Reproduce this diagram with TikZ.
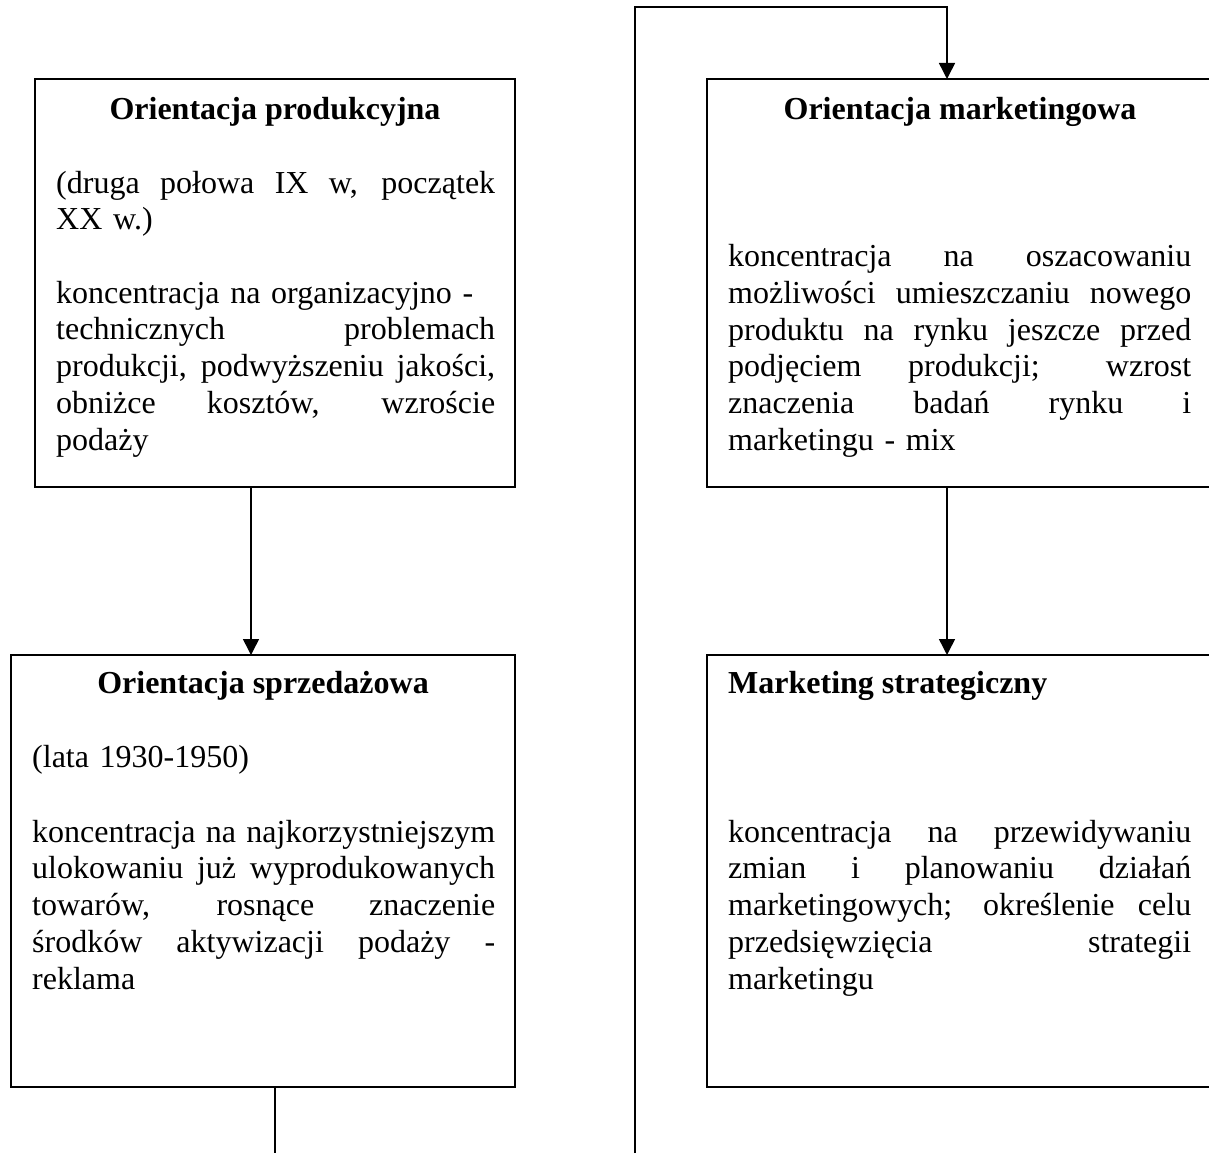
\documentclass[tikz,border=0pt]{standalone}
\usepackage{fontspec}
\setmainfont{Liberation Serif}
\usetikzlibrary{arrows.meta}
\newcommand{\jl}[1]{\leavevmode\hbox to\hsize{\spaceskip=.25em plus 1fil\relax #1}}
\begin{document}
\begin{tikzpicture}[x=1pt,y=-1pt,
  box/.style={draw, line width=1.5pt, inner sep=0pt, outer sep=0pt, anchor=north west},
  ttl/.style={font=\fontsize{32}{36.8}\selectfont\bfseries, inner sep=0pt, anchor=base},
  para/.style={font=\fontsize{32}{36.8}\selectfont, inner sep=0pt, align=left, anchor=base west, text width=#1},
  conn/.style={line width=1.5pt},
  arr/.style={line width=1.5pt, -{Triangle[length=16pt,width=16pt]}}
]
\useasboundingbox (0,0) rectangle (1209,1153);
% boxes
\node[box, minimum width=480pt, minimum height=408pt] (b1) at (35,79) {};
\node[box, minimum width=504pt, minimum height=432pt] (b2) at (11,655) {};
\node[box, minimum width=504pt, minimum height=408pt] (b3) at (707,79) {};
\node[box, minimum width=504pt, minimum height=432pt] (b4) at (707,655) {};
% box 1
\node[ttl] (t1) at (275,120) {Orientacja produkcyjna};
\node[para=439pt] (p1a) at (56,193) {\jl{(druga połowa IX w, początek}\\XX w.)};
\node[para=439pt] (p1b) at (56,303) {koncentracja na organizacyjno -\\\jl{technicznych problemach}\\\jl{produkcji, podwyższeniu jakości,}\\\jl{obniżce kosztów, wzroście}\\podaży};
% box 2
\node[ttl] (t2) at (263,693) {Orientacja sprzedażowa};
\node[para=463pt] (p2a) at (32,767) {(lata 1930-1950)};
\node[para=463pt] (p2b) at (32,842) {\jl{koncentracja na najkorzystniejszym}\\\jl{ulokowaniu już wyprodukowanych}\\\jl{towarów, rosnące znaczenie}\\\jl{środków aktywizacji podaży -}\\reklama};
% box 3
\node[ttl] (t3) at (960,120) {Orientacja marketingowa};
\node[para=463pt] (p3) at (728,266.5) {\jl{koncentracja na oszacowaniu}\\\jl{możliwości umieszczaniu nowego}\\\jl{produktu na rynku jeszcze przed}\\\jl{podjęciem produkcji; wzrost}\\\jl{znaczenia badań rynku i}\\marketingu - mix};
% box 4
\node[ttl, anchor=base west] (t4) at (728,693) {Marketing strategiczny};
\node[para=463pt] (p4) at (728,842) {\jl{koncentracja na przewidywaniu}\\\jl{zmian i planowaniu działań}\\\jl{marketingowych; określenie celu}\\\jl{przedsięwzięcia strategii}\\marketingu};
% connectors
\coordinate (xa) at (251,0);
\coordinate (xb) at (947,0);
\coordinate (xc) at (275,0);
\coordinate (loopstart) at (635,1153);
\coordinate (topcorner) at (635,7);
\coordinate (bottomend) at (275,1153);
\draw[arr] (b1.south -| xa) -- (b2.north -| xa);
\draw[arr] (b3.south -| xb) -- (b4.north -| xb);
\draw[conn] (b2.south -| xc) -- (bottomend);
\draw[arr] (loopstart) -- (topcorner) -| (b3.north -| xb);
\end{tikzpicture}
\end{document}
